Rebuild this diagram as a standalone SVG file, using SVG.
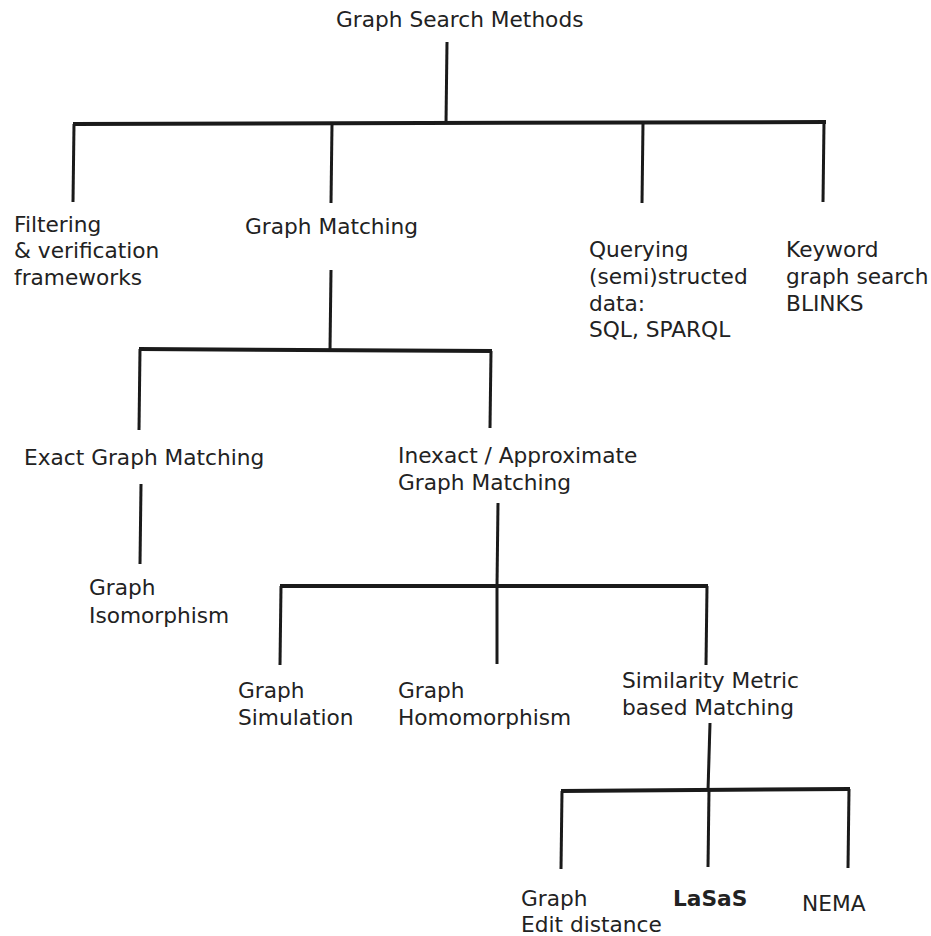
<svg xmlns="http://www.w3.org/2000/svg" width="931" height="936" viewBox="0 0 931 936">
<style>
text{font-family:"DejaVu Sans","Noto Sans",sans-serif;font-size:21.7px;fill:#222}
.b{font-weight:bold}
line{stroke:#1a1a1a;stroke-width:3;stroke-linecap:butt}
line.h{stroke-width:4}
</style>
<rect width="931" height="936" fill="#fff"/>
<g id="connectors">
<line x1="447" y1="42" x2="446" y2="123"/>
<line class="h" x1="73" y1="124" x2="826" y2="122"/>
<line x1="74" y1="124" x2="73" y2="202"/>
<line x1="332" y1="124" x2="331" y2="203"/>
<line x1="643" y1="123" x2="642" y2="203"/>
<line x1="824" y1="122" x2="823" y2="202"/>
<line x1="331" y1="270" x2="330" y2="350"/>
<line class="h" x1="139" y1="349" x2="492" y2="351"/>
<line x1="140" y1="349" x2="139" y2="430"/>
<line x1="491" y1="351" x2="490" y2="428"/>
<line x1="141" y1="484" x2="140" y2="564"/>
<line x1="498" y1="503" x2="497" y2="586"/>
<line class="h" x1="280" y1="586" x2="708" y2="586"/>
<line x1="281" y1="586" x2="280" y2="665"/>
<line x1="497" y1="586" x2="497" y2="664"/>
<line x1="707" y1="586" x2="706" y2="665"/>
<line x1="710" y1="723" x2="708" y2="791"/>
<line class="h" x1="561" y1="791" x2="850" y2="789"/>
<line x1="562" y1="791" x2="561" y2="869"/>
<line x1="709" y1="790" x2="708" y2="867"/>
<line x1="849" y1="789" x2="848" y2="868"/>
</g>
<g id="root"><text x="336" y="27">Graph Search Methods</text></g>
<g id="filtering"><text x="14" y="232">Filtering</text><text x="14" y="258">&amp; verification</text><text x="14" y="285">frameworks</text></g>
<g id="graph-matching"><text x="245" y="234">Graph Matching</text></g>
<g id="querying"><text x="589" y="257">Querying</text><text x="589" y="284">(semi)structed</text><text x="589" y="311">data:</text><text x="589" y="337">SQL, SPARQL</text></g>
<g id="keyword"><text x="786" y="257">Keyword</text><text x="786" y="284">graph search</text><text x="786" y="311">BLINKS</text></g>
<g id="exact"><text x="24" y="465">Exact Graph Matching</text></g>
<g id="inexact"><text x="398" y="463">Inexact / Approximate</text><text x="398" y="490">Graph Matching</text></g>
<g id="isomorphism"><text x="89" y="595">Graph</text><text x="89" y="623">Isomorphism</text></g>
<g id="simulation"><text x="238" y="698">Graph</text><text x="238" y="725">Simulation</text></g>
<g id="homomorphism"><text x="398" y="698">Graph</text><text x="398" y="725">Homomorphism</text></g>
<g id="similarity"><text x="622" y="688">Similarity Metric</text><text x="622" y="715">based Matching</text></g>
<g id="edit-distance"><text x="521" y="906">Graph</text><text x="521" y="932">Edit distance</text></g>
<g id="lasas"><text class="b" x="673" y="906">LaSaS</text></g>
<g id="nema"><text x="802" y="911">NEMA</text></g>
</svg>
